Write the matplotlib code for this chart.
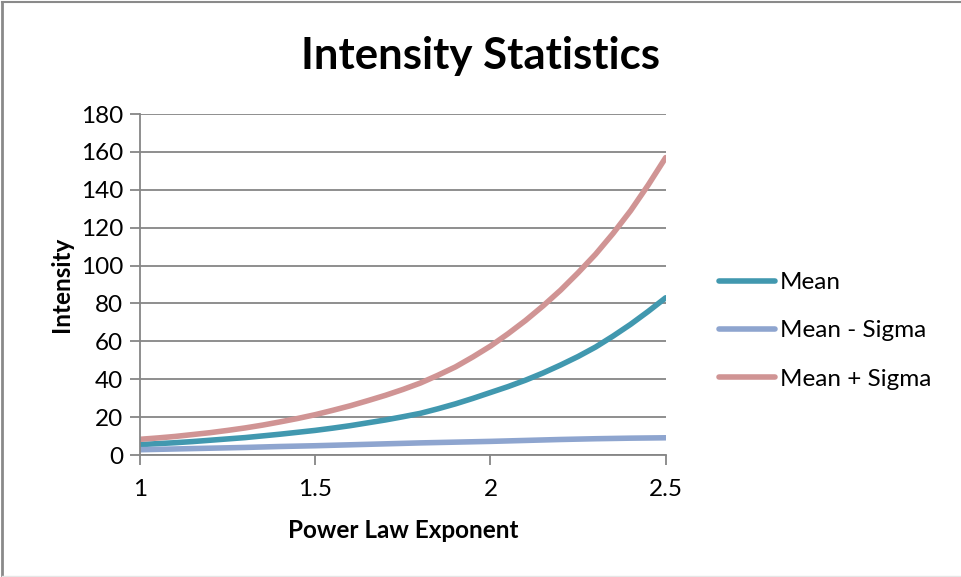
import matplotlib.pyplot as plt
from matplotlib.lines import Line2D

plt.rcParams['font.family'] = ['Lato', 'DejaVu Sans']

# values
exponent = [1.0, 1.05, 1.1, 1.15, 1.2, 1.25, 1.3, 1.35, 1.4, 1.45, 1.5,
            1.55, 1.6, 1.65, 1.7, 1.75, 1.8, 1.85, 1.9, 1.95, 2.0,
            2.05, 2.1, 2.15, 2.2, 2.25, 2.3, 2.35, 2.4, 2.45, 2.5]
mean = [5.5, 6.0, 6.5, 7.1, 7.8, 8.5, 9.2, 10.1, 11.0, 12.0, 13.0,
        14.2, 15.5, 17.0, 18.5, 20.2, 22.0, 24.4, 27.0, 29.9, 33.0,
        36.1, 39.5, 43.3, 47.5, 52.0, 57.0, 62.8, 69.0, 75.8, 83.0]
mean_minus = [2.8, 3.0, 3.2, 3.4, 3.6, 3.8, 4.0, 4.25, 4.5, 4.7, 4.9,
              5.15, 5.4, 5.65, 5.9, 6.15, 6.4, 6.6, 6.8, 7.0, 7.2,
              7.45, 7.7, 7.95, 8.2, 8.4, 8.6, 8.75, 8.9, 9.0, 9.1]
mean_plus = [8.3, 9.0, 9.8, 10.8, 11.8, 13.0, 14.3, 15.8, 17.5, 19.3, 21.3,
             23.6, 26.0, 28.7, 31.5, 34.6, 38.0, 42.1, 46.5, 51.8, 57.5,
             64.0, 71.0, 78.7, 87.0, 96.2, 106.0, 117.0, 129.0, 142.5, 157.0]

fig = plt.figure(figsize=(9.61, 5.77), dpi=100)
ax = fig.add_axes([0.1457, 0.2114, 0.547, 0.591])

ax.plot(exponent, mean, color='#4198AF', lw=4.0, label='Mean', solid_capstyle='round')
ax.plot(exponent, mean_minus, color='#8EA5CF', lw=4.0, label='Mean - Sigma', solid_capstyle='round')
ax.plot(exponent, mean_plus, color='#D09494', lw=4.0, label='Mean + Sigma', solid_capstyle='round')

ax.set_xlim(1, 2.5)
ax.set_ylim(0, 180)
ax.set_xticks([1, 1.5, 2, 2.5])
ax.set_xticklabels(['1', '1.5', '2', '2.5'])
ax.set_yticks(range(0, 181, 20))
ax.yaxis.grid(True, color='#868686', lw=1.3)
ax.set_axisbelow(True)
for s in ['top', 'right']:
    ax.spines[s].set_visible(False)
for s in ['left', 'bottom']:
    ax.spines[s].set_color('#868686')
    ax.spines[s].set_linewidth(1.3)
ax.tick_params(axis='both', colors='#868686', width=1.3, length=7, labelsize=17.5,
               labelcolor='black')
ax.tick_params(axis='x', pad=10)
ax.tick_params(axis='y', pad=5)

ax.set_xlabel('Power Law Exponent', fontsize=17.5, fontweight='bold', labelpad=14)
ax.set_ylabel('Intensity', fontsize=17.5, fontweight='bold', labelpad=6)
fig.text(0.5, 0.903, 'Intensity Statistics', ha='center', va='center',
         fontsize=31.5, fontweight='bold')

leg = ax.legend(loc='center left', bbox_to_anchor=(1.06, 0.364), frameon=False,
                fontsize=17.5, handlelength=2.3, handletextpad=0.2, labelspacing=1.12)

# chart border: gray top and left, faint bottom
fig.add_artist(Line2D([0.002, 1.0], [0.997, 0.997], color='#8a8a8a', lw=1.5))
fig.add_artist(Line2D([0.002, 0.002], [0.0, 0.997], color='#8a8a8a', lw=2.0))
fig.add_artist(Line2D([0.002, 1.0], [0.002, 0.002], color='#e6e6e6', lw=1.0))

fig.savefig('out.png', dpi=100)
